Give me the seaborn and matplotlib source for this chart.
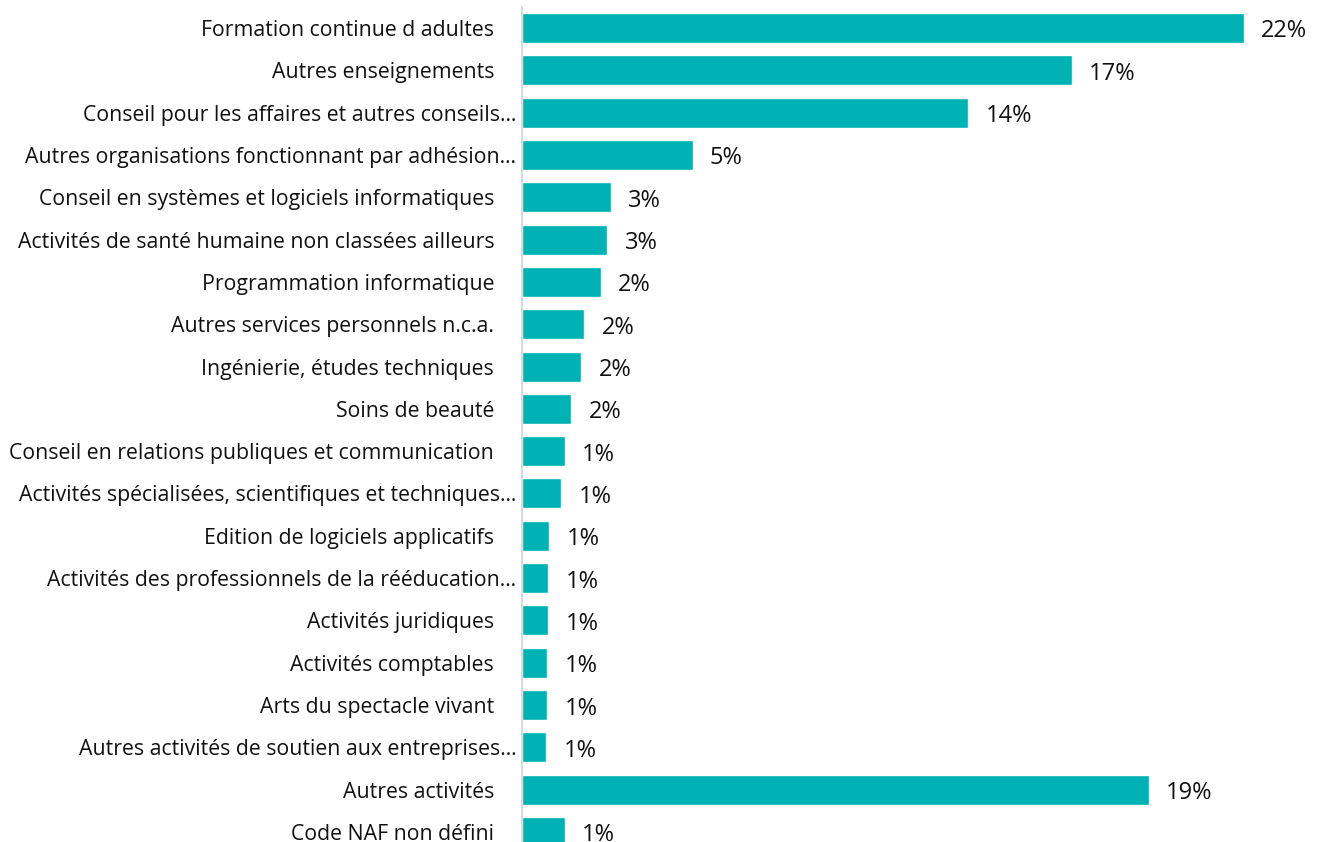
import matplotlib
matplotlib.use("Agg")
from matplotlib import pyplot as plt
import seaborn as sns

categories = [
    "Formation continue d adultes",
    "Autres enseignements",
    "Conseil pour les affaires et autres conseils…",
    "Autres organisations fonctionnant par adhésion…",
    "Conseil en systèmes et logiciels informatiques",
    "Activités de santé humaine non classées ailleurs",
    "Programmation informatique",
    "Autres services personnels n.c.a.",
    "Ingénierie, études techniques",
    "Soins de beauté",
    "Conseil en relations publiques et communication",
    "Activités spécialisées, scientifiques et techniques…",
    "Edition de logiciels applicatifs",
    "Activités des professionnels de la rééducation…",
    "Activités juridiques",
    "Activités comptables",
    "Arts du spectacle vivant",
    "Autres activités de soutien aux entreprises…",
    "Autres activités",
    "Code NAF non défini",
]
shares = [22.0, 16.75, 13.6, 5.2, 2.7, 2.6, 2.4, 1.9, 1.8, 1.5,
          1.3, 1.2, 0.83, 0.8, 0.8, 0.77, 0.77, 0.74, 19.1, 1.3]
value_labels = ["22%", "17%", "14%", "5%", "3%", "3%", "2%", "2%", "2%", "2%",
                "1%", "1%", "1%", "1%", "1%", "1%", "1%", "1%", "19%", "1%"]

BAR_COLOR = "#00B2B4"
TEXT_COLOR = "#111111"

sns.set_style("white")
plt.rcParams["font.family"] = ["Open Sans", "DejaVu Sans"]

fig = plt.figure(figsize=(13.21, 8.42), dpi=100)
ax = fig.add_axes([522 / 1321, 0, 1 - 522 / 1321, 1 - 6.85 / 842])

sns.barplot(
    x=shares,
    y=categories,
    orient="h",
    color=BAR_COLOR,
    saturation=1,
    width=0.71,
    ax=ax,
)

ax.set_xlim(0, 797 / 32.73)
ax.set_ylim(19 + 10 / 42.3, -0.5)

texts = ax.bar_label(
    ax.containers[0],
    labels=value_labels,
    padding=12,
    fontsize=17,
    color=TEXT_COLOR,
)
# the value labels sit a little below the bar centre
for t in texts:
    t.xyann = (12.5, -2.5)

for spine in ["top", "right", "bottom"]:
    ax.spines[spine].set_visible(False)
ax.spines["left"].set_color("#d9d9d9")
ax.spines["left"].set_linewidth(1.5)

ax.set_xticks([])
ax.set_xlabel("")
ax.set_ylabel("")
ax.tick_params(axis="y", length=0, labelsize=15.3, labelcolor=TEXT_COLOR)

for tick, name in zip(ax.yaxis.get_major_ticks(), categories):
    tick.set_pad(4 if name.endswith("…") else 20)

fig.savefig("out.png", dpi=100)
